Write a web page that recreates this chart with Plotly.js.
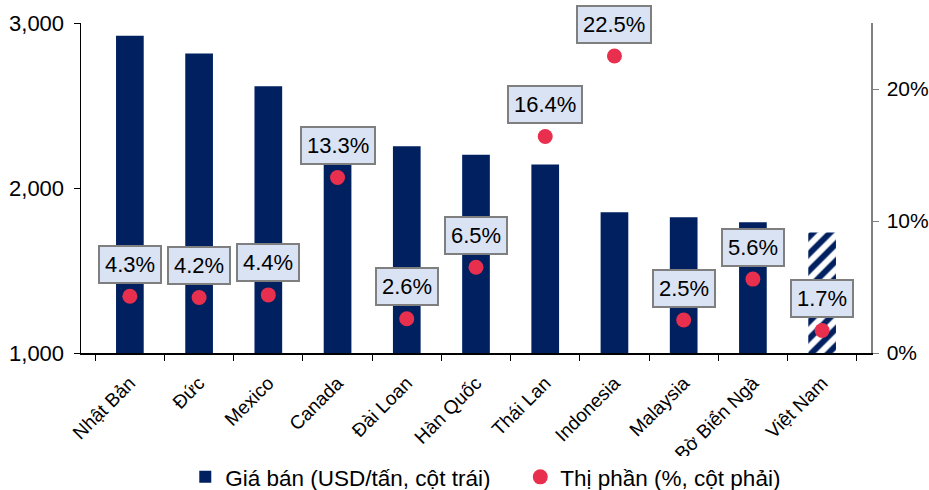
<!DOCTYPE html>
<html>
<head>
<meta charset="utf-8">
<script src="https://cdn.plot.ly/plotly-3.0.1.min.js"></script>
<style>html,body{margin:0;padding:0;background:#fff;}#chart{width:929px;height:490px;}</style>
</head>
<body>
<div id="chart"></div>
<script>
const countries = ["Nhật Bản","Đức","Mexico","Canada","Đài Loan","Hàn Quốc","Thái Lan","Indonesia","Malaysia","Bờ Biển Ngà","Việt Nam"];
const prices = [2923, 2815, 2616, 2300, 2253, 2202, 2142, 1853, 1822, 1792, 1730];
const shares = [4.3, 4.2, 4.4, 13.3, 2.6, 6.5, 16.4, 22.5, 2.5, 5.6, 1.7];
const shareLabels = ["4.3%","4.2%","4.4%","13.3%","2.6%","6.5%","16.4%","22.5%","2.5%","5.6%","1.7%"];
const leftTicks = [1000, 2000, 3000];
const leftTickText = ["1,000", "2,000", "3,000"];
const rightTicks = [0, 10, 20];
const rightTickText = ["0%", "10%", "20%"];

const navy = "#002060";
const red = "#E8304E";
const font = "Liberation Sans, Arial, sans-serif";
const lastIdx = countries.length - 1;

const barTrace = {
  type: "bar",
  x: countries,
  y: prices,
  name: "Giá bán (USD/tấn, cột trái)",
  width: 0.4,
  marker: {
    color: navy,
    line: {width: 0},
    pattern: {
      shape: countries.map((c, i) => i === lastIdx ? "/" : ""),
      fgcolor: "#ffffff",
      fgopacity: 1,
      fillmode: "overlay",
      size: 12,
      solidity: 0.5
    }
  },
  hoverinfo: "skip"
};

const dotTrace = {
  type: "scatter",
  mode: "markers",
  x: countries,
  y: shares,
  yaxis: "y2",
  name: "Thị phần (%, cột phải)",
  marker: {color: red, size: 15},
  hoverinfo: "skip"
};

const annotations = countries.map((c, i) => ({
  x: c, y: shares[i], xref: "x", yref: "y2",
  text: shareLabels[i],
  showarrow: false,
  yshift: 32,
  font: {family: font, size: 22, color: "#000"},
  bgcolor: "#DAE3F3",
  bordercolor: "#7F7F7F",
  borderwidth: 2,
  borderpad: 5
}));

const layout = {
  width: 929, height: 490,
  margin: {l: 81, r: 58, t: 23, b: 137},
  paper_bgcolor: "#fff", plot_bgcolor: "#fff",
  font: {family: font, color: "#000"},
  showlegend: true,
  legend: {
    orientation: "h", x: 0.132, xanchor: "left",
    yref: "container", y: 0.07, yanchor: "top",
    font: {family: font, size: 22.5, color: "#000"},
    itemwidth: 30, entrywidth: 290
  },
  xaxis: {
    type: "category",
    automargin: false,
    tickangle: -45,
    ticklabelstandoff: 10,
    tickfont: {family: font, size: 19, color: "#000"},
    showline: true, linecolor: "#000", linewidth: 1.5,
    ticks: "outside", tickson: "boundaries", ticklen: 6, tickcolor: "#000",
    showgrid: false, zeroline: false, fixedrange: true
  },
  yaxis: {
    automargin: false,
    range: [1000, 3000],
    tickvals: leftTicks,
    ticktext: leftTickText,
    ticklabelstandoff: 5,
    tickfont: {family: font, size: 22, color: "#000"},
    showline: true, linecolor: "#000", linewidth: 1.5,
    ticks: "outside", ticklen: 6, tickcolor: "#000",
    showgrid: false, zeroline: false, fixedrange: true
  },
  yaxis2: {
    automargin: false,
    overlaying: "y", side: "right",
    range: [0, 25],
    tickvals: rightTicks,
    ticktext: rightTickText,
    ticklabelstandoff: 4,
    tickfont: {family: font, size: 21, color: "#000"},
    showline: true, linecolor: "#808080", linewidth: 1.5,
    ticks: "outside", ticklen: 6, tickcolor: "#808080",
    showgrid: false, zeroline: false, fixedrange: true
  },
  annotations: annotations
};

Plotly.newPlot("chart", [barTrace, dotTrace], layout, {displayModeBar: false, staticPlot: true});
</script>
</body>
</html>
